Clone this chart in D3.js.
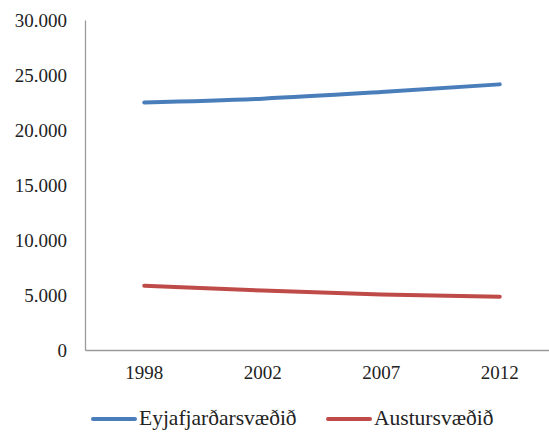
<!DOCTYPE html>
<html><head><meta charset="utf-8">
<script src="https://cdn.jsdelivr.net/npm/d3@7"></script>
<style>body{margin:0;background:#fff}svg{display:block}</style>
</head><body>
<svg id="c" width="549" height="432"></svg>
<script>
const years = ["1998","2002","2007","2012"];
const eyjafjordur = [22500, 22850, 23450, 24150];
const austur = [5850, 5400, 5050, 4850];
const seriesNames = ["Eyjafjarðarsvæðið","Austursvæðið"];
const colors = ["#4a7ebb","#be4b48"];
const yTicks = [0,5000,10000,15000,20000,25000,30000];

const FONT = "Liberation Serif";
const svg = d3.select("#c");
const mLeft = 85, mRight = 559, mTop = 20, mBottom = 350;
const x = d3.scaleBand().domain(years).range([mLeft, mRight]);
const y = d3.scaleLinear().domain([0,30000]).range([mBottom, mTop]);
const fmt = d => d3.format(",")(d).replace(/,/g,".");

// axes
const ya = svg.append("g").attr("transform",`translate(${mLeft},0)`)
  .call(d3.axisLeft(y).tickValues(yTicks).tickSize(0).tickPadding(18).tickFormat(fmt));
ya.attr("font-family", FONT);
ya.select(".domain").attr("stroke","#9a9a9a").attr("stroke-width",1.3);
ya.selectAll("text").attr("font-family", FONT).attr("font-size","19px").attr("fill","#222");

const xa = svg.append("g").attr("transform",`translate(0,${mBottom})`)
  .call(d3.axisBottom(x).tickSize(0).tickPadding(16));
xa.attr("font-family", FONT);
xa.select(".domain").attr("stroke","#9a9a9a").attr("stroke-width",1.3);
xa.selectAll("text").attr("font-family", FONT).attr("font-size","19px").attr("fill","#222");

const line = d3.line().x((d,i)=>x(years[i])+x.bandwidth()/2).y(d=>y(d)).curve(d3.curveMonotoneX);
[eyjafjordur, austur].forEach((s,i)=>{
  svg.append("path").attr("d",line(s)).attr("fill","none").attr("stroke",colors[i])
    .attr("stroke-width",4).attr("stroke-linecap","round");
});

// legend
const legX = [93, 328];
seriesNames.forEach((n,i)=>{
  const g = svg.append("g");
  g.append("line").attr("x1",legX[i]).attr("x2",legX[i]+42).attr("y1",419).attr("y2",419)
    .attr("stroke",colors[i]).attr("stroke-width",4).attr("stroke-linecap","round");
  g.append("text").attr("x",legX[i]+46).attr("y",425).attr("font-family",FONT)
    .attr("font-size","21.5px").attr("fill","#222").text(n);
});
</script>
</body></html>
